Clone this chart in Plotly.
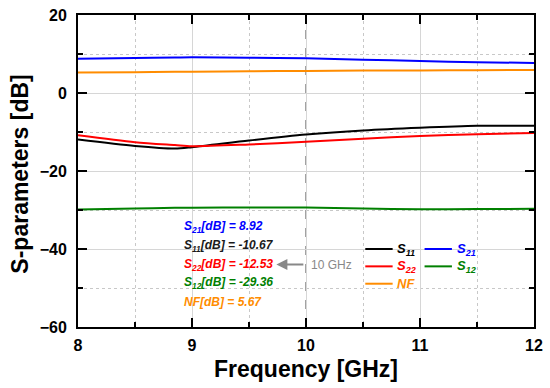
import plotly.graph_objects as go

freq = [8.0, 8.5, 8.85, 9.0, 9.5, 10.0, 10.5, 11.0, 11.5, 12.0]
s21 = [8.8, 9.0, 9.1, 9.15, 9.05, 8.92, 8.55, 8.2, 7.9, 7.7]
nf = [5.23, 5.35, 5.42, 5.45, 5.55, 5.67, 5.75, 5.8, 5.85, 5.9]
s11 = [-11.95, -13.6, -14.25, -13.9, -12.2, -10.67, -9.6, -8.9, -8.4, -8.4]
s22 = [-10.85, -12.6, -13.35, -13.65, -13.2, -12.53, -11.7, -11.0, -10.6, -10.25]
s12 = [-29.9, -29.6, -29.45, -29.4, -29.35, -29.36, -29.6, -29.8, -29.75, -29.7]

marker_freq = 10
x_ticks = [8, 9, 10, 11, 12]
y_ticks = [-60, -40, -20, 0, 20]
x_title = "Frequency [GHz]"
y_title = "S-parameters [dB]"

FONT = "Liberation Sans, Arial, sans-serif"
colors = {"S11": "#000000", "S21": "#0000ff", "S22": "#ff0000", "S12": "#008000", "NF": "#ff8c00"}

fig = go.Figure()
series = [("S11", s11), ("S22", s22), ("S21", s21), ("S12", s12), ("NF", nf)]
for name, ys in series:
    fig.add_trace(go.Scatter(x=freq, y=ys, mode="lines", name=name,
                             line=dict(color=colors[name], width=2, shape="spline", smoothing=0.8),
                             showlegend=False))

fig.add_shape(type="line", x0=marker_freq, x1=marker_freq, y0=0, y1=1, yref="paper",
              line=dict(color="#666666", width=1.2, dash="dash"), layer="below")

# value annotations
texts = [
    ("<b><i>S<sub>21</sub>[dB] = 8.92</i></b>", colors["S21"]),
    ("<b><i>S<sub>11</sub>[dB] = -10.67</i></b>", "#1a1a1a"),
    ("<b><i>S<sub>22</sub>[dB] = -12.53</i></b>", colors["S22"]),
    ("<b><i>S<sub>12</sub>[dB] = -29.36</i></b>", colors["S12"]),
    ("<b><i>NF[dB] = 5.67</i></b>", colors["NF"]),
]
for i, (t, c) in enumerate(texts):
    fig.add_annotation(x=8.915, y=-34.4 - i * 4.8, xanchor="left", yanchor="middle", text=t,
                       showarrow=False, font=dict(family=FONT, size=12, color=c))

fig.add_annotation(x=9.74, y=-44.0, ax=9.99, ay=-44.0, axref="x", ayref="y",
                   text="", showarrow=True, arrowhead=2, arrowsize=1.1, arrowwidth=2, arrowcolor="#888888")
fig.add_annotation(x=10.025, y=-44.0, xanchor="left", yanchor="middle", text="10 GHz",
                   showarrow=False, font=dict(family=FONT, size=12, color="#888888"))

# legend (manual)
leg = [("S11", "S<sub>11</sub>", 0, 0), ("S21", "S<sub>21</sub>", 1, 0),
       ("S22", "S<sub>22</sub>", 0, 1), ("S12", "S<sub>12</sub>", 1, 1), ("NF", "NF", 0, 2)]
for key, lab, col, row in leg:
    x0 = 10.52 + col * 0.52
    yv = -40.0 - row * 4.45
    fig.add_shape(type="line", x0=x0, x1=x0 + 0.24, y0=yv, y1=yv, line=dict(color=colors[key], width=2))
    fig.add_annotation(x=x0 + 0.265, y=yv, xanchor="left", yanchor="middle",
                       text="<b><i>" + lab + "</i></b>", showarrow=False,
                       font=dict(family=FONT, size=13, color=colors[key]))

# axis titles
fig.add_annotation(x=0.5, y=-0.134, xref="paper", yref="paper", xanchor="center", yanchor="middle",
                   text="<b>" + x_title + "</b>", showarrow=False,
                   font=dict(family=FONT, size=23, color="black"))
fig.add_annotation(x=-0.126, y=0.49, xref="paper", yref="paper", xanchor="center", yanchor="middle",
                   text="<b>" + y_title + "</b>", showarrow=False, textangle=-90,
                   font=dict(family=FONT, size=23, color="black"))

axis_common = dict(ticks="inside", ticklen=9, tickwidth=2, tickcolor="black",
                   showline=True, linecolor="black", linewidth=2, mirror="ticks",
                   showgrid=True, gridcolor="#d6d6d6", gridwidth=1, zeroline=False,
                   automargin=False,
                   tickfont=dict(family=FONT, size=16, color="black", weight="bold"))
fig.update_xaxes(range=[8, 12], tickvals=x_ticks, ticklabelstandoff=3, **axis_common,
                 minor=dict(dtick=0.5, ticks="inside", ticklen=5, tickwidth=1.5, tickcolor="black",
                            showgrid=True, gridcolor="#c8c8c8", griddash="dot"))
fig.update_yaxes(range=[-60, 20], tickvals=y_ticks, ticklabelstandoff=6, **axis_common,
                 minor=dict(dtick=10, ticks="inside", ticklen=5, tickwidth=1.5, tickcolor="black",
                            showgrid=True, gridcolor="#c8c8c8", griddash="dot"))

fig.update_layout(width=550, height=388, margin=dict(l=78, r=16, t=15, b=61),
                  plot_bgcolor="white", paper_bgcolor="white", showlegend=False)

fig.write_html("out.html", config={"displayModeBar": False},
               post_script="document.body.style.margin='0';document.body.style.overflow='hidden';")
